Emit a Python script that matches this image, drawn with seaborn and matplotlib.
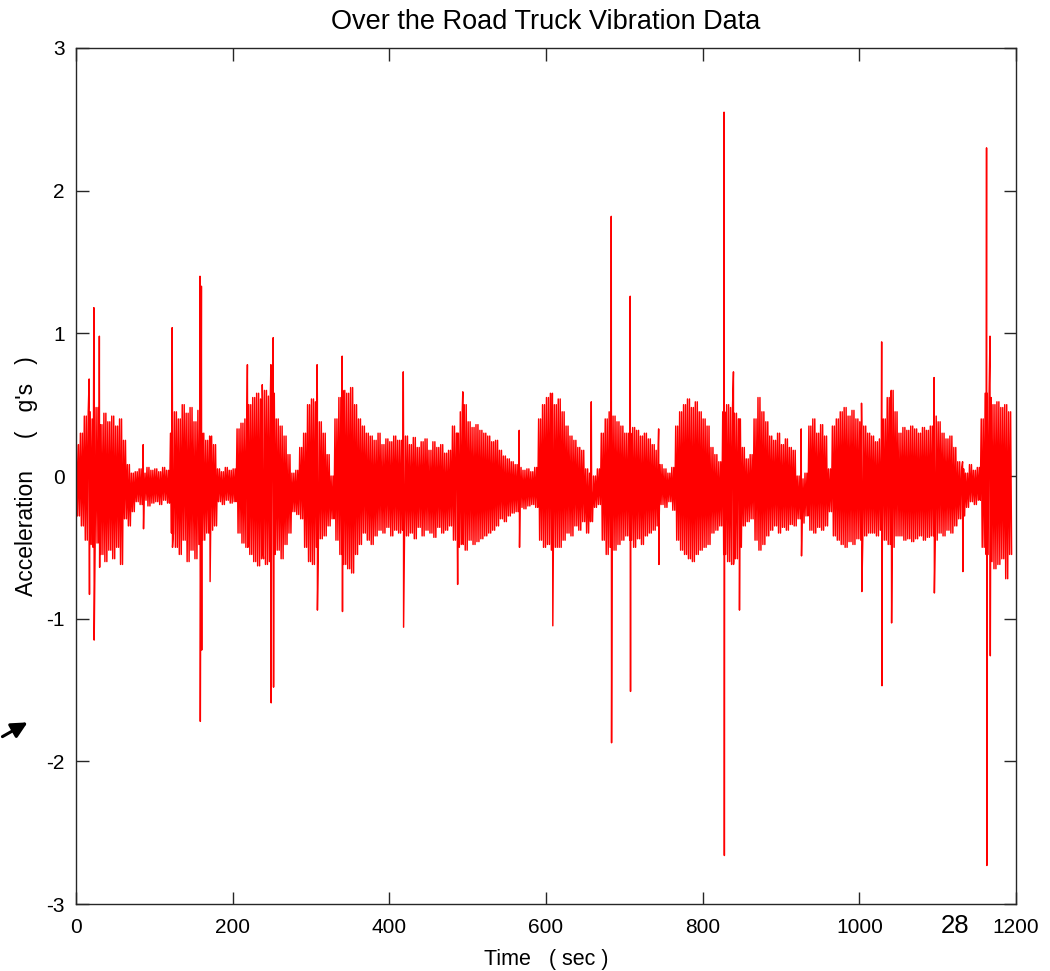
import numpy as np
import pandas as pd
import matplotlib
matplotlib.use("Agg")
import matplotlib.pyplot as plt
import seaborn as sns

# ----------------------------------------------------------
# Envelope of the vibration trace per 5 s bin
# (peak / trough in hundredths of g)
# ----------------------------------------------------------
BIN_SEC = 5
SWINGS_PER_BIN = 2

env_hi = [
    22, 30, 42, 45, 40, 48, 36, 44, 38, 42, 35, 40, 25,
    8, 2, 3, 5, 2, 6, 4, 5, 3, 6, 4,
    30, 45, 40, 50, 44, 48, 38, 46, 30, 25, 28, 22,
    5, 3, 6, 4, 5,
    33, 37, 40, 50, 55, 58, 54, 60, 56, 58, 40, 35, 28, 15,
    2, 4,
    20, 30, 50, 54, 52, 38, 30, 15,
    0,
    40, 55, 60, 58, 62, 50, 40,
    35, 30, 28, 25, 30, 22, 26, 24, 28, 25,
    25, 28, 22, 27, 20, 24, 26, 18, 24, 20, 22, 16, 18,
    35, 30, 45, 50, 38, 34, 36, 32, 30, 28, 24, 25,
    18, 14, 12, 10, 8, 6, 4, 5, 3, 6,
    40, 50, 55, 58, 50, 54, 45,
    35, 28, 25, 20, 18,
    5, 2, 0, 5,
    30, 40, 45, 42, 38, 35, 30,
    30, 34, 32, 28, 30, 26, 22, 18,
    8, 5, 2, 6,
    35, 45, 50, 54, 48, 52, 45, 40, 35,
    20, 15, 10,
    45, 50, 48, 44, 40,
    20, 12, 15,
    40, 55, 45, 38,
    28, 25, 30, 22, 26, 20, 18,
    0, -2, 2,
    35, 40, 30, 36, 28,
    5,
    35, 40, 45, 48, 42, 46, 40, 38, 35, 30,
    28, 24, 26,
    40, 55, 60, 45,
    30, 34, 32, 35, 33, 30, 34, 32,
    35, 42, 38, 30, 26, 28, 20,
    10, 5, 2, 8, 4, 6,
    40, 58, 55, 50, 52, 48, 50, 45,
]
env_lo = [
    -28, -35, -45, -48, -50, -47, -55, -60, -52, -58, -50, -62, -30,
    -35, -25, -18, -20, -17, -21, -19, -18, -20, -17, -19,
    -40, -50, -55, -45, -60, -52, -58, -48, -45, -40, -38, -35,
    -18, -20, -17, -19, -18,
    -40, -47, -50, -55, -60, -63, -58, -62, -60, -55, -52, -58, -48, -40,
    -25, -27,
    -30, -50, -60, -62, -50, -44, -42, -35,
    -30,
    -45, -55, -62, -65, -68, -55, -48,
    -40, -45, -48, -42, -38, -40, -36, -42, -38, -40,
    -38, -42, -40, -44, -36, -42, -38, -40, -43, -36, -40, -38, -35,
    -45, -50, -48, -52, -45, -48, -46, -44, -42, -40, -38, -35,
    -30, -32, -28, -26, -25, -22, -23, -21, -20, -22,
    -45, -50, -48, -52, -50, -50, -45,
    -40, -42, -35, -38, -32,
    -40, -32, -22, -20,
    -45, -55, -50, -52, -48, -45, -42,
    -45, -50, -44, -48, -42, -40, -38, -35,
    -20, -22, -18, -24,
    -45, -52, -55, -58, -60, -55, -52, -50, -48,
    -40, -38, -35,
    -55, -60, -62, -58, -50,
    -35, -32, -30,
    -45, -52, -48, -42,
    -38, -35, -40, -36, -38, -34, -35,
    -30, -33, -28,
    -38, -40, -36, -38, -35,
    -25,
    -42, -45, -48, -50, -46, -48, -44, -45, -42, -40,
    -40, -42, -38,
    -45, -48, -50, -42,
    -42, -45, -44, -46, -44, -42, -45, -43,
    -42, -45, -40, -42, -38, -40, -35,
    -30, -28, -22, -18, -20, -17,
    -50, -55, -60, -65, -62, -58, -72, -55,
]

# Isolated shock spikes (time in s, peak g, trough g)
spike_t = [17, 23, 30, 86, 123, 158.5, 160.3, 171, 219, 238,
           249, 252, 308, 340, 418, 487, 494, 566, 608.5, 658,
           683.5, 707.7, 744, 827.5, 839.5, 846.8, 926, 1003, 1028.7, 1041,
           1095.6, 1132, 1162.6, 1167]
spike_hi = [0.68, 1.18, 0.98, 0.22, 1.04, 1.40, 1.33, 0.26, 0.78, 0.64,
            0.78, 0.97, 0.78, 0.84, 0.73, 0.30, 0.59, 0.32, 0.40, 0.52,
            1.82, 1.26, 0.33, 2.55, 0.73, 0.40, 0.33, 0.51, 0.94, 0.60,
            0.69, 0.10, 2.30, 0.98]
spike_lo = [-0.83, -1.15, -0.64, -0.37, -0.50, -1.72, -1.22, -0.74, -0.40, -0.50,
            -1.59, -1.48, -0.94, -0.95, -1.06, -0.76, -0.35, -0.50, -1.05, -0.10,
            -1.87, -1.51, -0.62, -2.66, -0.60, -0.94, -0.56, -0.81, -1.47, -1.03,
            -0.82, -0.67, -2.73, -1.26]

x_ticks = [0, 200, 400, 600, 800, 1000, 1200]
y_ticks = [-3, -2, -1, 0, 1, 2, 3]

# ----------------------------------------------------------
# Assemble the trace: each bin swings between its peak and trough,
# spikes are slotted in at their own times
# ----------------------------------------------------------
hi = np.array(env_hi) / 100.0
lo = np.array(env_lo) / 100.0
idx = np.arange(len(hi))
step = BIN_SEC / SWINGS_PER_BIN

t_parts, g_parts = [], []
for k in range(SWINGS_PER_BIN):
    t_parts += [idx * BIN_SEC + (k + 0.25) * step, idx * BIN_SEC + (k + 0.75) * step]
    g_parts += [hi, lo]
st = np.array(spike_t)
t_parts += [st - 0.2, st + 0.2]
g_parts += [np.array(spike_hi), np.array(spike_lo)]

df = pd.DataFrame({"time": np.concatenate(t_parts),
                   "accel": np.concatenate(g_parts)}).sort_values("time")

# ----------------------------------------------------------
# Plot (MATLAB-like look)
# ----------------------------------------------------------
sns.set_style("white")
plt.rcParams["font.family"] = ["Liberation Sans", "DejaVu Sans"]
plt.rcParams["axes.unicode_minus"] = False
plt.rcParams["text.color"] = "black"
plt.rcParams["axes.labelcolor"] = "black"

fig = plt.figure(figsize=(10.5, 9.71), dpi=100)
ax = fig.add_axes([76 / 1050, 1 - 904 / 971, 940 / 1050, 856 / 971])

sns.lineplot(data=df, x="time", y="accel", sort=True, estimator=None,
             color="#ff0000", linewidth=1.05, ax=ax)

ax.set_xlim(0, 1200)
ax.set_ylim(-3, 3)
ax.set_xticks(x_ticks)
ax.set_yticks(y_ticks)
ax.tick_params(direction="in", length=9, width=1, colors="#262626",
               labelsize=15, labelcolor="black", top=True, right=True,
               bottom=True, left=True)
ax.tick_params(axis="x", pad=10)
ax.tick_params(axis="y", pad=8)
for s in ax.spines.values():
    s.set_visible(True)
    s.set_color("#262626")
    s.set_linewidth(1.0)

ax.set_title("Over the Road Truck Vibration Data", fontsize=19.5, pad=14, color="black")
ax.set_xlabel("Time   ( sec )", fontsize=15.5, labelpad=9)
ax.set_ylabel("Acceleration     (   g's   )", fontsize=16.5, labelpad=6)

# page number and pointer arrow left on the scanned page
fig.text(955 / 1050, 1 - 926 / 971, "28", fontsize=18.5, ha="center", va="center")
ax.annotate("", xy=(30 / 1050, 1 - 721 / 971), xytext=(0 / 1050, 1 - 738 / 971),
            xycoords="figure fraction", textcoords="figure fraction",
            arrowprops=dict(arrowstyle="-|>", color="black", lw=2.2, mutation_scale=24))

fig.savefig("out.png", dpi=100, facecolor="white")
plt.close(fig)
